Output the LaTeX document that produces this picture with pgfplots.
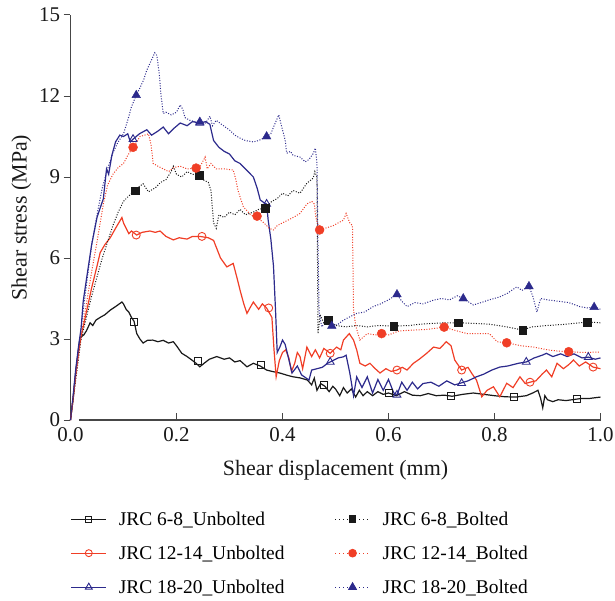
\documentclass[border=0pt]{standalone}
\usepackage{fontspec}
\setmainfont{Liberation Serif}
\usepackage{pgfplots}
\pgfplotsset{compat=1.18}
\definecolor{cblk}{RGB}{25,25,25}
\definecolor{cred}{RGB}{240,62,38}
\definecolor{cblu}{RGB}{44,42,140}
\definecolor{caxis}{RGB}{70,70,70}
\begin{document}
\begin{tikzpicture}
\path[use as bounding box] (-70.5bp,-181bp) rectangle (544.5bp,420bp);
\begin{axis}[
  scale only axis, width=530bp, height=405bp,
  xmin=0, xmax=1, ymin=0, ymax=15,
  axis x line=bottom, axis y line=left,
  axis line style={-, caxis, line width=1.1bp},
  x axis line style={shorten <=8.5bp},
  xtick={0,0.2,0.4,0.6,0.8,1.0}, ytick={0,3,6,9,12,15},
  xtick align=inside, ytick align=outside,
  major tick length=7bp,
  every tick/.style={caxis, line width=1bp},
  /pgf/number format/assume math mode=true,
  xticklabel style={yshift=-4bp, /pgf/number format/.cd, fixed, fixed zerofill, precision=1},
  tick label style={font=\fontsize{21}{25}\selectfont, text=cblk},
  label style={font=\fontsize{22}{26}\selectfont, text=cblk},
  xlabel={Shear displacement (mm)},
  ylabel={Shear stress (MPa)},
  xlabel style={yshift=-12bp},
  ylabel style={yshift=1bp},
  clip=false,
  legend columns=2,
  legend cell align=left,
  legend style={draw=none, fill=none, at={(0,-0.221)}, anchor=north west,
    font=\fontsize{19.5}{23}\selectfont, inner sep=0pt, row sep=15bp,
    /tikz/every even column/.style={column sep=38bp},
    nodes={inner xsep=12bp, inner ysep=2bp}},
  legend image code/.code={\draw[mark repeat=2,mark phase=2,#1] plot coordinates {(0bp,0bp) (17.5bp,0bp) (35bp,0bp)};},
]
% ---------- JRC 6-8 Unbolted ----------
\addplot[cblk, line width=1.2bp, forget plot] coordinates {
(0,0) (0.005,0.8) (0.01,1.8) (0.015,2.6) (0.018,3.05) (0.025,3.15) (0.03,3.3) (0.037,3.6) (0.042,3.5) (0.048,3.7) (0.056,3.8) (0.065,3.9) (0.075,4.07) (0.085,4.2) (0.097,4.37) (0.1,4.3) (0.105,4.1) (0.11,4.0) (0.115,3.8) (0.12,3.65) (0.125,3.2) (0.131,3.0) (0.137,2.85) (0.145,2.95) (0.155,2.96) (0.165,2.9) (0.175,2.95) (0.185,2.85) (0.194,2.9) (0.2,2.75) (0.21,2.47) (0.22,2.35) (0.229,2.22) (0.237,2.1) (0.244,1.97) (0.252,2.1) (0.262,2.25) (0.276,2.35) (0.29,2.25) (0.3,2.3) (0.31,2.15) (0.32,2.2) (0.333,1.97) (0.345,2.1) (0.358,2.0) (0.37,1.85) (0.38,1.8) (0.395,1.74) (0.41,1.65) (0.42,1.6) (0.433,1.56) (0.447,1.48) (0.455,1.3) (0.46,1.55) (0.465,1.1) (0.472,1.35) (0.48,1.25) (0.488,1.05) (0.495,1.25) (0.5,1.15) (0.508,0.9) (0.515,1.2) (0.522,1.0) (0.53,1.15) (0.538,0.85) (0.545,1.1) (0.552,0.9) (0.56,1.05) (0.57,0.9) (0.58,1.05) (0.59,0.95) (0.6,1.0) (0.615,0.9) (0.63,1.05) (0.645,0.92) (0.66,0.9) (0.675,0.98) (0.69,0.9) (0.705,0.92) (0.72,0.88) (0.74,0.95) (0.76,1.0) (0.78,0.95) (0.8,0.9) (0.82,0.86) (0.84,0.85) (0.86,0.9) (0.872,1.0) (0.882,1.1) (0.887,0.8) (0.891,0.45) (0.895,0.9) (0.9,0.75) (0.91,0.68) (0.92,0.75) (0.935,0.72) (0.95,0.76) (0.965,0.8) (0.98,0.8) (1.0,0.85)
};
\addplot[only marks, mark=square, mark size=3.5bp, mark options={cblk, line width=0.9bp, fill=none}, forget plot] coordinates {
(0.12,3.65) (0.24,2.2) (0.36,2.04) (0.478,1.3) (0.6,1.02) (0.718,0.88) (0.837,0.84) (0.955,0.79)
};
% ---------- JRC 12-14 Unbolted ----------
\addplot[cred, line width=1.2bp, forget plot] coordinates {
(0,0) (0.005,0.8) (0.01,1.7) (0.015,2.5) (0.02,3.1) (0.03,4.0) (0.04,4.9) (0.05,5.7) (0.056,6.2) (0.065,6.5) (0.075,6.75) (0.085,7.1) (0.097,7.5) (0.1,7.3) (0.105,7.1) (0.11,6.9) (0.115,7.0) (0.125,6.85) (0.135,6.95) (0.15,7.0) (0.16,6.95) (0.169,7.0) (0.18,6.8) (0.194,6.67) (0.205,6.75) (0.22,6.7) (0.23,6.8) (0.244,6.8) (0.26,6.75) (0.27,6.65) (0.283,6.0) (0.295,5.67) (0.307,5.8) (0.315,5.2) (0.32,4.8) (0.327,4.3) (0.333,3.95) (0.34,4.2) (0.345,4.37) (0.355,4.1) (0.362,4.3) (0.37,4.15) (0.38,3.8) (0.384,2.6) (0.388,1.6) (0.394,2.2) (0.4,2.5) (0.406,2.6) (0.412,2.3) (0.417,1.8) (0.423,2.1) (0.428,2.5) (0.433,2.35) (0.438,1.9) (0.446,2.7) (0.455,2.35) (0.462,2.6) (0.47,2.3) (0.478,2.65) (0.49,2.47) (0.502,2.7) (0.51,2.6) (0.515,2.96) (0.526,3.2) (0.534,2.96) (0.54,2.6) (0.546,2.1) (0.556,2.0) (0.565,2.1) (0.575,1.9) (0.584,1.74) (0.595,1.9) (0.605,1.8) (0.616,1.85) (0.626,1.95) (0.635,1.85) (0.647,2.1) (0.658,2.25) (0.672,2.47) (0.685,2.7) (0.697,2.65) (0.709,2.9) (0.718,2.75) (0.725,2.22) (0.738,1.85) (0.75,1.95) (0.758,1.7) (0.766,1.48) (0.776,0.86) (0.786,1.1) (0.798,1.23) (0.81,0.86) (0.823,1.36) (0.835,1.2) (0.848,1.6) (0.858,1.35) (0.867,1.4) (0.878,1.45) (0.89,1.7) (0.898,1.85) (0.908,1.6) (0.918,2.1) (0.93,1.9) (0.94,2.05) (0.949,2.22) (0.96,2.0) (0.972,2.15) (0.986,1.96) (1.0,1.9)
};
\addplot[only marks, mark=o, mark size=4bp, mark options={cred, line width=0.9bp, fill=none}, forget plot] coordinates {
(0.124,6.85) (0.248,6.8) (0.374,4.15) (0.49,2.47) (0.616,1.85) (0.738,1.85) (0.867,1.4) (0.986,1.96)
};
% ---------- JRC 18-20 Unbolted ----------
\addplot[cblu, line width=1.2bp, forget plot] coordinates {
(0,0) (0.005,0.9) (0.01,1.9) (0.015,2.7) (0.02,3.4) (0.024,4.4) (0.03,5.2) (0.04,6.5) (0.05,7.5) (0.062,8.2) (0.068,9.3) (0.072,9.1) (0.078,9.8) (0.085,10.3) (0.093,10.55) (0.1,10.5) (0.108,10.6) (0.113,10.3) (0.118,10.4) (0.13,10.6) (0.144,10.75) (0.153,10.55) (0.165,10.7) (0.175,10.85) (0.185,10.6) (0.195,10.8) (0.207,11.0) (0.22,10.9) (0.23,11.05) (0.244,11.0) (0.255,11.05) (0.263,10.95) (0.267,10.6) (0.27,10.35) (0.28,10.1) (0.29,9.95) (0.3,9.85) (0.31,9.6) (0.32,9.5) (0.33,9.3) (0.345,9.0) (0.352,8.6) (0.358,8.15) (0.365,8.05) (0.37,8.0) (0.373,7.4) (0.378,6.7) (0.383,5.7) (0.387,4.0) (0.39,2.5) (0.395,2.7) (0.4,2.96) (0.405,2.8) (0.41,2.4) (0.418,1.74) (0.428,2.0) (0.436,1.67) (0.45,1.48) (0.455,1.85) (0.465,1.9) (0.475,1.95) (0.485,2.1) (0.495,2.2) (0.505,2.3) (0.515,2.34) (0.52,2.4) (0.527,1.74) (0.534,0.9) (0.54,1.6) (0.55,1.2) (0.56,1.6) (0.57,1.0) (0.58,1.5) (0.59,1.1) (0.6,1.5) (0.61,1.0) (0.616,0.93) (0.625,1.4) (0.635,1.1) (0.645,1.4) (0.655,1.15) (0.665,1.35) (0.68,1.4) (0.695,1.25) (0.71,1.45) (0.725,1.3) (0.735,1.36) (0.75,1.45) (0.766,1.6) (0.78,1.7) (0.795,1.85) (0.81,1.96) (0.825,2.0) (0.845,2.1) (0.86,2.15) (0.875,2.3) (0.89,2.4) (0.898,2.47) (0.91,2.35) (0.925,2.45) (0.937,2.35) (0.95,2.45) (0.965,2.3) (0.977,2.33) (0.99,2.25) (1.0,2.3)
};
\addplot[only marks, mark=triangle, mark size=4.5bp, mark options={cblu, line width=0.9bp, fill=none}, forget plot] coordinates {
(0.118,10.4) (0.244,11.0) (0.37,8.0) (0.49,2.15) (0.616,0.93) (0.738,1.36) (0.86,2.15) (0.977,2.33)
};
% ---------- JRC 6-8 Bolted ----------
\addplot[cblk, line width=1bp, dash pattern=on 1bp off 1.6bp, forget plot] coordinates {
(0,0) (0.01,1.5) (0.02,3.0) (0.03,3.8) (0.04,4.6) (0.05,5.3) (0.06,6.0) (0.07,6.6) (0.08,7.2) (0.09,7.7) (0.1,8.1) (0.11,8.3) (0.122,8.5) (0.13,8.65) (0.137,8.75) (0.147,8.45) (0.16,8.6) (0.17,8.8) (0.18,8.9) (0.19,9.2) (0.194,9.4) (0.2,9.1) (0.21,9.0) (0.22,9.2) (0.23,9.1) (0.243,9.07) (0.25,8.9) (0.26,8.8) (0.265,8.5) (0.27,7.3) (0.275,7.1) (0.28,7.6) (0.29,7.5) (0.3,7.7) (0.31,7.6) (0.32,7.8) (0.33,7.6) (0.345,7.7) (0.355,7.8) (0.367,7.85) (0.38,8.1) (0.39,8.2) (0.4,8.4) (0.41,8.3) (0.42,8.5) (0.433,8.4) (0.446,8.77) (0.458,8.96) (0.461,9.2) (0.465,9.0) (0.466,6.0) (0.467,3.2) (0.471,3.9) (0.478,3.6) (0.486,3.7) (0.5,3.5) (0.52,3.45) (0.54,3.5) (0.56,3.45) (0.58,3.5) (0.61,3.48) (0.64,3.5) (0.66,3.55) (0.685,3.58) (0.71,3.6) (0.732,3.6) (0.76,3.58) (0.79,3.55) (0.823,3.45) (0.853,3.33) (0.87,3.45) (0.9,3.5) (0.936,3.55) (0.975,3.63) (1.0,3.6)
};
\addplot[only marks, mark=square*, mark size=3.8bp, mark options={cblk, fill=cblk}, forget plot] coordinates {
(0.122,8.5) (0.243,9.07) (0.367,7.85) (0.486,3.7) (0.61,3.48) (0.732,3.6) (0.853,3.33) (0.975,3.63)
};
% ---------- JRC 12-14 Bolted ----------
\addplot[cred, line width=1bp, dash pattern=on 1bp off 1.6bp, forget plot] coordinates {
(0,0) (0.01,1.6) (0.02,3.1) (0.03,4.3) (0.04,5.5) (0.05,6.6) (0.062,8.0) (0.07,8.7) (0.08,9.1) (0.09,9.35) (0.1,9.5) (0.108,9.8) (0.118,10.1) (0.125,10.3) (0.131,10.5) (0.14,10.55) (0.147,10.6) (0.152,10.2) (0.156,9.5) (0.165,9.4) (0.175,9.3) (0.185,9.2) (0.195,9.35) (0.207,9.4) (0.22,9.3) (0.237,9.33) (0.245,9.4) (0.254,9.74) (0.258,9.3) (0.265,9.5) (0.275,9.3) (0.29,9.3) (0.307,9.26) (0.312,8.9) (0.316,8.5) (0.326,7.9) (0.34,7.6) (0.352,7.5) (0.365,7.3) (0.375,7.1) (0.383,7.04) (0.39,7.2) (0.4,7.3) (0.42,7.5) (0.433,7.65) (0.446,8.0) (0.455,8.1) (0.46,8.0) (0.463,7.5) (0.47,7.04) (0.48,7.1) (0.496,7.2) (0.505,7.3) (0.515,7.4) (0.52,7.65) (0.527,7.3) (0.532,7.2) (0.534,4.1) (0.538,3.5) (0.546,2.96) (0.56,3.2) (0.575,3.15) (0.587,3.2) (0.6,3.15) (0.62,3.3) (0.647,3.33) (0.67,3.35) (0.69,3.4) (0.705,3.44) (0.72,3.35) (0.748,3.2) (0.77,3.2) (0.79,3.2) (0.805,2.9) (0.823,2.86) (0.85,2.75) (0.874,2.7) (0.9,2.6) (0.92,2.55) (0.94,2.53) (0.97,2.5) (1.0,2.52)
};
\addplot[only marks, mark=*, mark size=4.5bp, mark options={cred, fill=cred}, forget plot] coordinates {
(0.118,10.1) (0.237,9.33) (0.352,7.55) (0.47,7.04) (0.587,3.2) (0.705,3.44) (0.823,2.86) (0.94,2.53)
};
% ---------- JRC 18-20 Bolted ----------
\addplot[cblu, line width=1bp, dash pattern=on 1bp off 1.6bp, forget plot] coordinates {
(0,0) (0.01,1.8) (0.02,3.4) (0.03,5.0) (0.04,6.5) (0.05,7.6) (0.06,8.6) (0.07,9.3) (0.08,9.9) (0.09,10.3) (0.1,10.6) (0.108,11.1) (0.115,11.6) (0.124,12.03) (0.131,12.3) (0.138,12.6) (0.144,12.96) (0.152,13.3) (0.159,13.6) (0.163,13.5) (0.167,12.9) (0.171,12.0) (0.175,11.35) (0.18,11.4) (0.19,11.3) (0.2,11.4) (0.207,11.67) (0.212,11.5) (0.216,11.2) (0.225,11.1) (0.235,11.05) (0.244,11.04) (0.255,11.0) (0.263,11.25) (0.268,10.9) (0.275,11.1) (0.285,10.95) (0.3,10.74) (0.31,10.55) (0.32,10.44) (0.33,10.35) (0.345,10.3) (0.355,10.35) (0.37,10.5) (0.378,10.6) (0.383,10.85) (0.393,11.3) (0.398,10.9) (0.405,10.37) (0.408,9.88) (0.415,9.95) (0.42,9.8) (0.433,9.74) (0.443,9.56) (0.45,9.65) (0.458,9.87) (0.462,10.07) (0.465,9.5) (0.467,6.5) (0.469,4.0) (0.474,3.45) (0.48,3.6) (0.493,3.48) (0.505,3.55) (0.515,3.7) (0.53,3.85) (0.54,3.95) (0.555,4.0) (0.571,4.2) (0.585,4.3) (0.6,4.45) (0.616,4.65) (0.625,4.4) (0.635,4.2) (0.65,4.35) (0.665,4.3) (0.685,4.44) (0.7,4.5) (0.715,4.45) (0.73,4.6) (0.741,4.5) (0.76,4.26) (0.775,4.35) (0.79,4.45) (0.81,4.56) (0.825,4.7) (0.842,4.93) (0.852,4.8) (0.865,4.95) (0.872,4.6) (0.88,4.0) (0.887,4.5) (0.9,4.45) (0.92,4.4) (0.94,4.35) (0.961,4.2) (0.975,4.15) (0.988,4.18) (1.0,4.1)
};
\addplot[only marks, mark=triangle*, mark size=5bp, mark options={cblu, fill=cblu}, forget plot] coordinates {
(0.124,12.03) (0.244,11.04) (0.37,10.5) (0.493,3.48) (0.616,4.65) (0.741,4.5) (0.865,4.95) (0.988,4.18)
};
% ---------- legend ----------
\addlegendimage{cblk, line width=1.2bp, mark=square, mark size=3bp, mark options={solid, line width=0.9bp}}
\addlegendentry{JRC 6-8\_Unbolted}
\addlegendimage{cblk, line width=1bp, dash pattern=on 1bp off 3bp, mark=square*, mark size=3.2bp, mark options={solid, fill=cblk}}
\addlegendentry{JRC 6-8\_Bolted}
\addlegendimage{cred, line width=1.2bp, mark=o, mark size=3.5bp, mark options={solid, line width=0.9bp}}
\addlegendentry{JRC 12-14\_Unbolted}
\addlegendimage{cred, line width=1bp, dash pattern=on 1bp off 3bp, mark=*, mark size=3.8bp, mark options={solid, fill=cred}}
\addlegendentry{JRC 12-14\_Bolted}
\addlegendimage{cblu, line width=1.2bp, mark=triangle, mark size=4bp, mark options={solid, line width=0.9bp}}
\addlegendentry{JRC 18-20\_Unbolted}
\addlegendimage{cblu, line width=1bp, dash pattern=on 1bp off 3bp, mark=triangle*, mark size=4.3bp, mark options={solid, fill=cblu}}
\addlegendentry{JRC 18-20\_Bolted}
\end{axis}
\end{tikzpicture}
\end{document}
